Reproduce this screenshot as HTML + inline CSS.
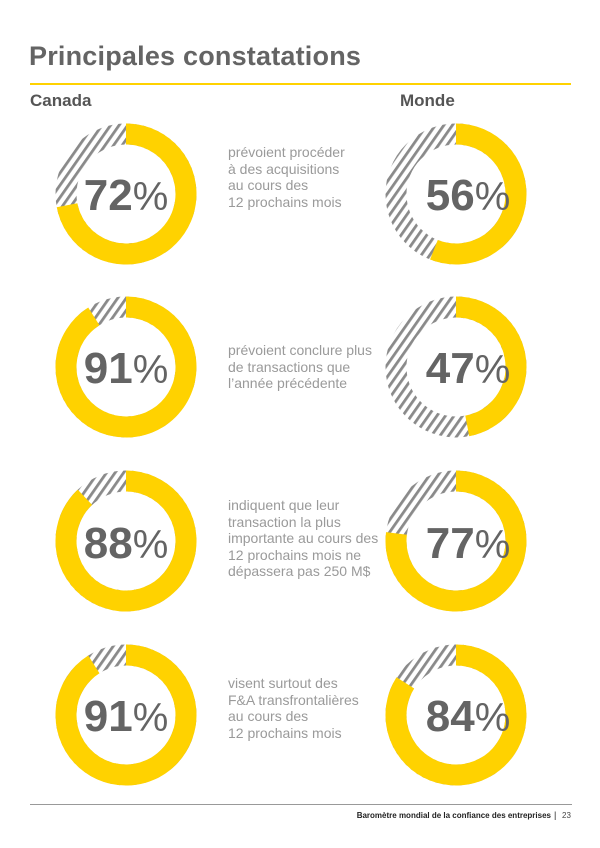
<!DOCTYPE html>
<html><head><meta charset="utf-8"><style>
body{margin:0;background:#fff;width:600px;height:848px;overflow:hidden;font-family:"Liberation Sans",sans-serif;position:relative}
.t{position:absolute}
.desc{position:absolute;left:228px;font-size:14px;line-height:16.5px;color:#9a9a9a;}
</style></head><body>
<div class="t" style="left:29px;top:41px;font-size:27px;font-weight:bold;color:#646464;letter-spacing:0.2px">Principales constatations</div>
<div class="t" style="left:30px;top:83px;width:541px;height:2px;background:#ffd200"></div>
<div class="t" style="left:30px;top:91px;font-size:17px;font-weight:bold;color:#555">Canada</div>
<div class="t" style="left:400px;top:91px;font-size:17px;font-weight:bold;color:#555">Monde</div>
<svg class="t" style="left:0;top:0" width="600" height="848">
<defs><pattern id="h" patternUnits="userSpaceOnUse" width="7" height="7" patternTransform="rotate(35)"><rect width="7" height="7" fill="#fff"/><rect width="2.8" height="7" fill="#8a8a8a"/></pattern></defs>
<g id="donuts"></g>
<g font-family="Liberation Sans" font-weight="bold" fill="#646464" text-anchor="middle">
<text x="126" y="210" font-size="44">72<tspan font-size="40" font-weight="normal">%</tspan></text>
<text x="126" y="383" font-size="44">91<tspan font-size="40" font-weight="normal">%</tspan></text>
<text x="126" y="558" font-size="44">88<tspan font-size="40" font-weight="normal">%</tspan></text>
<text x="126" y="731" font-size="44">91<tspan font-size="40" font-weight="normal">%</tspan></text>
<text x="468" y="210" font-size="44">56<tspan font-size="40" font-weight="normal">%</tspan></text>
<text x="468" y="383" font-size="44">47<tspan font-size="40" font-weight="normal">%</tspan></text>
<text x="468" y="558" font-size="44">77<tspan font-size="40" font-weight="normal">%</tspan></text>
<text x="468" y="731" font-size="44">84<tspan font-size="40" font-weight="normal">%</tspan></text>
</g>
<line x1="30" y1="804.5" x2="572" y2="804.5" stroke="#999" stroke-width="1"/>
<text x="551" y="818" font-size="8" font-weight="bold" fill="#222" text-anchor="end" font-family="Liberation Sans">Baromètre mondial de la confiance des entreprises</text>
<text x="554" y="818" font-size="9" fill="#222" font-family="Liberation Sans">|</text>
<text x="562" y="818" font-size="8" fill="#444" font-family="Liberation Sans">23</text>
</svg>
<div class="desc" style="top:144px">prévoient procéder<br>à des acquisitions<br>au cours des<br>12 prochains mois</div>
<div class="desc" style="top:342px">prévoient conclure plus<br>de transactions que<br>l’année précédente</div>
<div class="desc" style="top:497px">indiquent que leur<br>transaction la plus<br>importante au cours des<br>12 prochains mois ne<br>dépassera pas 250 M$</div>
<div class="desc" style="top:675px">visent surtout des<br>F&amp;A transfrontalières<br>au cours des<br>12 prochains mois</div>
<script>
const d=[[126,194,72],[126,367,91],[126,541,88],[126,715,91],[456,194,56],[456,367,47],[456,541,77],[456,715,84]];
let s='';const R=60,W=21;
for(const [cx,cy,p] of d){
 const a=p/100*2*Math.PI;
 const x=cx+R*Math.sin(a),y=cy-R*Math.cos(a);
 const large=p>50?1:0;
 s+=`<circle cx="${cx}" cy="${cy}" r="${R}" fill="none" stroke="url(#h)" stroke-width="${W}"/>`;
 s+=`<path d="M${cx} ${cy-R} A${R} ${R} 0 ${large} 1 ${x} ${y}" fill="none" stroke="#ffd200" stroke-width="${W}"/>`;
}
document.getElementById('donuts').innerHTML=s;
</script>
</body></html>
